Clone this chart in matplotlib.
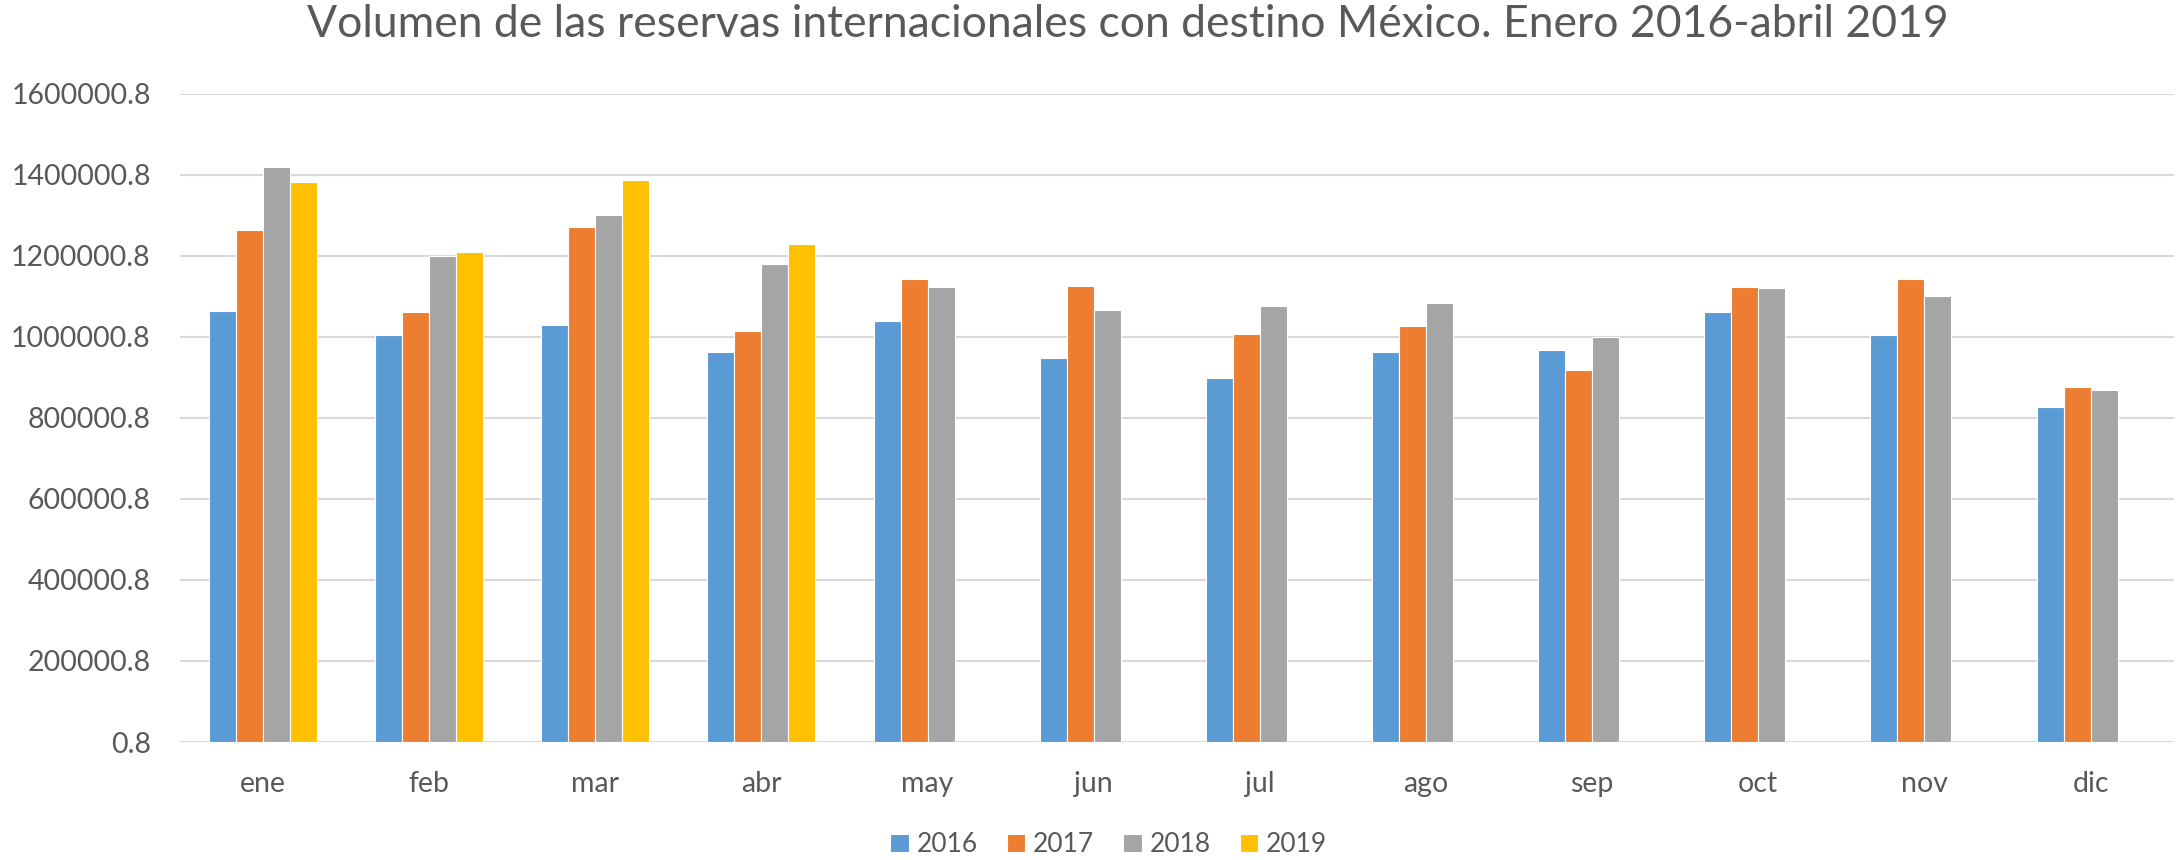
import matplotlib.pyplot as plt
import numpy as np

# Data
months = ['ene', 'feb', 'mar', 'abr', 'may', 'jun', 'jul', 'ago', 'sep', 'oct', 'nov', 'dic']
years = ['2016', '2017', '2018', '2019']
v2016 = [1065000, 1005000, 1030400, 963700, 1039400, 947300, 897900, 962900, 968700, 1061700, 1004900, 827900]
v2017 = [1263000, 1061700, 1270700, 1014800, 1143900, 1126700, 1007400, 1026300, 917600, 1122500, 1143200, 875700]
v2018 = [1420000, 1200700, 1300300, 1178600, 1123400, 1065800, 1076500, 1083100, 999100, 1120100, 1102000, 868300]
v2019 = [1382600, 1210600, 1386000, 1229600, np.nan, np.nan, np.nan, np.nan, np.nan, np.nan, np.nan, np.nan]
yticks = [0.8 + 200000 * k for k in range(9)]

colors = ['#5B9BD5', '#ED7D31', '#A5A5A5', '#FFC000']
text_color = '#595959'
plt.rcParams['font.family'] = ['Lato', 'DejaVu Sans']

fig = plt.figure(figsize=(21.78, 8.6), dpi=100)
ax = fig.add_axes([0.0826, 0.1372, 0.9154, 0.7538])

x = np.arange(len(months))
w = 0.1625
for i, (vals, c, lab) in enumerate(zip([v2016, v2017, v2018, v2019], colors, years)):
    ax.bar(x + (i - 1.5) * w, vals, width=w, color=c, edgecolor='white', linewidth=0.8,
           label=lab, zorder=3)

ax.set_xlim(-0.5, len(months) - 0.5)
ax.set_ylim(0.8, 1600000.8)
ax.set_yticks(yticks)
ax.set_yticklabels(['%.1f' % t for t in yticks])
ax.set_xticks(x)
ax.set_xticklabels(months)
ax.tick_params(axis='both', length=0, labelsize=20.5, colors=text_color)
ax.tick_params(axis='x', pad=21)
ax.tick_params(axis='y', pad=21)
ax.grid(axis='y', color='#D9D9D9', linewidth=1.5, zorder=0)
for s in ax.spines.values():
    s.set_visible(False)

fig.suptitle('Volumen de las reservas internacionales con destino México. Enero 2016-abril 2019',
             fontsize=32, color=text_color, x=0.518, y=0.995, va='top')

fig.legend(loc='center', bbox_to_anchor=(0.509, 0.018), ncol=4, frameon=False,
           fontsize=19, labelcolor=text_color, handlelength=0.7, handleheight=0.7,
           handletextpad=0.3, columnspacing=1.1)

fig.savefig('out.png', dpi=100)
